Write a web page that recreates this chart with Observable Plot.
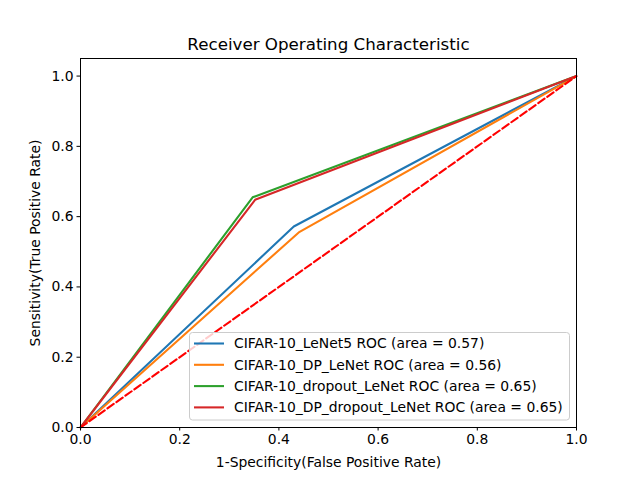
<!DOCTYPE html>
<html>
<head>
<meta charset="utf-8">
<script src="https://cdn.jsdelivr.net/npm/d3@7"></script>
<script src="https://cdn.jsdelivr.net/npm/@observablehq/plot@0.6"></script>
<style>
html, body { margin: 0; padding: 0; background: #fff; }
#chart svg { display: block; }
</style>
</head>
<body>
<div id="chart"></div>
<script>
const seriesNames = [
  "CIFAR-10_LeNet5 ROC (area = 0.57)",
  "CIFAR-10_DP_LeNet ROC (area = 0.56)",
  "CIFAR-10_dropout_LeNet ROC (area = 0.65)",
  "CIFAR-10_DP_dropout_LeNet ROC (area = 0.65)"
];
const seriesColors = ["#1f77b4", "#ff7f0e", "#2ca02c", "#d62728"];
const fprValues = [
  [0, 0.43, 1],
  [0, 0.44, 1],
  [0, 0.347, 1],
  [0, 0.352, 1]
];
const tprValues = [
  [0, 0.572, 1],
  [0, 0.555, 1],
  [0, 0.655, 1],
  [0, 0.648, 1]
];
const diagX = [0, 1];
const diagY = [0, 1];
const xTicks = [0, 0.2, 0.4, 0.6, 0.8, 1.0];
const yTicks = [0, 0.2, 0.4, 0.6, 0.8, 1.0];
const titleText = "Receiver Operating Characteristic";
const xLabel = "1-Specificity(False Positive Rate)";
const yLabel = "Sensitivity(True Positive Rate)";

const rows = [];
seriesNames.forEach((name, i) => {
  fprValues[i].forEach((f, j) => rows.push({series: name, fpr: f, tpr: tprValues[i][j]}));
});
const diag = diagX.map((x, i) => ({x, y: diagY[i]}));

const font = "DejaVu Sans, sans-serif";
const plot = Plot.plot({
  width: 640,
  height: 480,
  marginLeft: 80,
  marginRight: 64,
  marginTop: 58,
  marginBottom: 53,
  style: {fontFamily: font, fontSize: "13.9px", color: "#000", background: "#fff"},
  x: {domain: [0, 1]},
  y: {domain: [0, 1.05]},
  color: {domain: seriesNames, range: seriesColors},
  marks: [
    Plot.line(rows, {x: "fpr", y: "tpr", z: "series", stroke: "series", strokeWidth: 2.08, strokeLinejoin: "round", strokeLinecap: "butt"}),
    Plot.line(diag, {x: "x", y: "y", stroke: "#ff0000", strokeWidth: 2.08, strokeDasharray: "7.7,3.3"}),
    Plot.frame({stroke: "#000", strokeWidth: 1}),
    Plot.axisX(xTicks, {tickSize: 3.5, tickPadding: 3.5, tickFormat: d3.format(".1f"), label: null, stroke: "#000", fill: "#000", fontSize: "13.9px"}),
    Plot.axisY(yTicks, {tickSize: 3.5, tickPadding: 3.5, tickFormat: d3.format(".1f"), label: null, stroke: "#000", fill: "#000", fontSize: "13.9px"}),
    Plot.text([titleText], {frameAnchor: "top", dy: -14, fontSize: "16.7px", fill: "#000", lineAnchor: "middle", textAnchor: "middle"}),
    Plot.text([xLabel], {frameAnchor: "bottom", dy: 35, fontSize: "13.9px", fill: "#000", lineAnchor: "middle", textAnchor: "middle"}),
    Plot.text([yLabel], {frameAnchor: "left", dx: -45, rotate: -90, fontSize: "13.9px", fill: "#000", lineAnchor: "middle", textAnchor: "middle"})
  ]
});
document.getElementById("chart").appendChild(plot);

// Legend (lower right, matplotlib-style)
const svg = d3.select(plot);
const lg = svg.append("g").attr("font-family", font).attr("font-size", "13.9px").attr("text-anchor", "start");
const bx = 189.5, by = 332.5, bw = 380, bh = 87.5;
lg.append("rect").attr("x", bx).attr("y", by).attr("width", bw).attr("height", bh)
  .attr("rx", 3).attr("fill", "#fff").attr("fill-opacity", 0.8).attr("stroke", "#cccccc").attr("stroke-width", 1);
seriesNames.forEach((name, i) => {
  const yy = 343.5 + i * 21.3;
  lg.append("line").attr("x1", 194).attr("x2", 224).attr("y1", yy).attr("y2", yy)
    .attr("stroke", seriesColors[i]).attr("stroke-width", 2.08);
  lg.append("text").attr("x", 234).attr("y", yy).attr("dy", "0.35em").attr("fill", "#000").attr("text-anchor", "start").text(name);
});
</script>
</body>
</html>
